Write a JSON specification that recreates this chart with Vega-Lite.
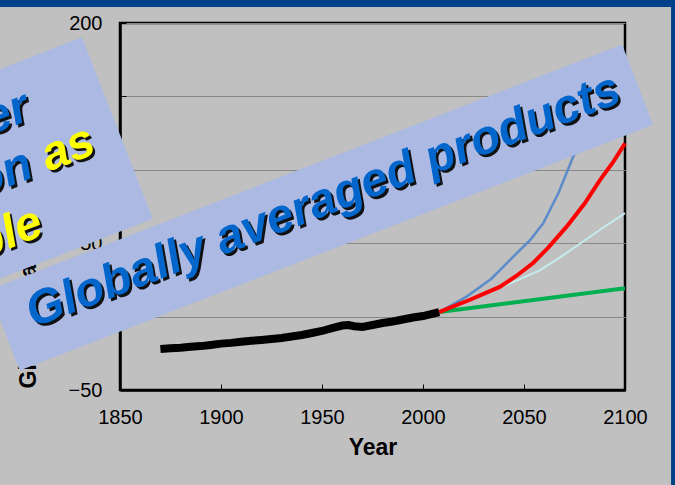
{
  "$schema": "https://vega.github.io/schema/vega-lite/v6.json",
  "width": 505,
  "height": 367,
  "autosize": {"type": "none"},
  "padding": {"left": 120, "top": 23, "right": 50, "bottom": 95},
  "background": "#C0C0C0",
  "config": {"view": {"stroke": "#000000", "strokeWidth": 2.5, "fill": null}, "font": "Liberation Sans"},
  "data": {"values": [
    {"series": "obs", "year": 1870, "value": -22.1},
    {"series": "obs", "year": 1875, "value": -21.6},
    {"series": "obs", "year": 1880, "value": -21.2},
    {"series": "obs", "year": 1885, "value": -20.6},
    {"series": "obs", "year": 1890, "value": -20.1},
    {"series": "obs", "year": 1895, "value": -19.3},
    {"series": "obs", "year": 1900, "value": -18.4},
    {"series": "obs", "year": 1905, "value": -17.9},
    {"series": "obs", "year": 1910, "value": -17.1},
    {"series": "obs", "year": 1915, "value": -16.5},
    {"series": "obs", "year": 1920, "value": -15.9},
    {"series": "obs", "year": 1925, "value": -15.3},
    {"series": "obs", "year": 1930, "value": -14.6},
    {"series": "obs", "year": 1935, "value": -13.6},
    {"series": "obs", "year": 1940, "value": -12.5},
    {"series": "obs", "year": 1945, "value": -11.2},
    {"series": "obs", "year": 1950, "value": -9.8},
    {"series": "obs", "year": 1955, "value": -7.8},
    {"series": "obs", "year": 1960, "value": -6.1},
    {"series": "obs", "year": 1963, "value": -5.8},
    {"series": "obs", "year": 1966, "value": -6.6},
    {"series": "obs", "year": 1970, "value": -7.0},
    {"series": "obs", "year": 1975, "value": -5.7},
    {"series": "obs", "year": 1980, "value": -4.4},
    {"series": "obs", "year": 1985, "value": -3.3},
    {"series": "obs", "year": 1990, "value": -2.0},
    {"series": "obs", "year": 1995, "value": -0.6},
    {"series": "obs", "year": 2000, "value": 0.4},
    {"series": "obs", "year": 2005, "value": 2.1},
    {"series": "obs", "year": 2008, "value": 3.1},
    {"series": "red", "year": 2008, "value": 3.1},
    {"series": "red", "year": 2015, "value": 7.0},
    {"series": "red", "year": 2023, "value": 11.3},
    {"series": "red", "year": 2030, "value": 15.5},
    {"series": "red", "year": 2038, "value": 20.2},
    {"series": "red", "year": 2046, "value": 27.5},
    {"series": "red", "year": 2054.5, "value": 36.5},
    {"series": "red", "year": 2062, "value": 47.0},
    {"series": "red", "year": 2071, "value": 61.1},
    {"series": "red", "year": 2080, "value": 77.0},
    {"series": "red", "year": 2087.6, "value": 93.0},
    {"series": "red", "year": 2094, "value": 105.0},
    {"series": "red", "year": 2100, "value": 118.0},
    {"series": "cyan", "year": 2008, "value": 3.1},
    {"series": "cyan", "year": 2023, "value": 11.0},
    {"series": "cyan", "year": 2038, "value": 19.8},
    {"series": "cyan", "year": 2048, "value": 25.5},
    {"series": "cyan", "year": 2058, "value": 31.7},
    {"series": "cyan", "year": 2068, "value": 40.5},
    {"series": "cyan", "year": 2078, "value": 50.0},
    {"series": "cyan", "year": 2088, "value": 59.5},
    {"series": "cyan", "year": 2100, "value": 70.5},
    {"series": "blue", "year": 2008, "value": 3.1},
    {"series": "blue", "year": 2021.6, "value": 13.6},
    {"series": "blue", "year": 2034, "value": 26.0},
    {"series": "blue", "year": 2046.3, "value": 43.0},
    {"series": "blue", "year": 2053, "value": 52.0},
    {"series": "blue", "year": 2059.5, "value": 63.6},
    {"series": "blue", "year": 2067, "value": 84.0},
    {"series": "blue", "year": 2074.4, "value": 109.0},
    {"series": "blue", "year": 2080, "value": 125.0},
    {"series": "blue", "year": 2090, "value": 145.0},
    {"series": "blue", "year": 2100, "value": 160.0},
    {"series": "green", "year": 2008, "value": 3.1},
    {"series": "green", "year": 2100, "value": 19.3}
  ]},
  "layer": [
    {
      "transform": [{"filter": "datum.series === 'cyan'"}],
      "mark": {"type": "line", "color": "#C4ECEE", "strokeWidth": 2},
      "encoding": {
        "x": {"field": "year", "type": "quantitative",
          "scale": {"domain": [1850, 2100], "nice": false, "zero": false},
          "axis": {"values": [1850, 1900, 1950, 2000, 2050, 2100], "format": "d", "title": "Year", "grid": false,
            "tickSize": -6, "tickColor": "#000000", "tickWidth": 1,
            "labelPadding": 39, "labelBaseline": "alphabetic", "labelFontSize": 20, "labelColor": "#000000",
            "labelFont": "Liberation Sans", "labelFlush": false, "labelOverlap": false,
            "titleFont": "Liberation Sans", "titleFontSize": 23, "titleFontWeight": "bold", "titleColor": "#000000",
            "titleBaseline": "alphabetic", "titleY": 64, "titleX": 252.5,
            "domainColor": "#000000", "domainWidth": 2.5}},
        "y": {"field": "value", "type": "quantitative",
          "scale": {"domain": [-50, 200], "nice": false, "zero": false},
          "axis": {"values": [-50, 0, 50, 100, 150, 200], "format": "d", "title": "Global mean change (%)",
            "grid": true, "gridColor": "#888888", "gridWidth": 1,
            "tickSize": -6, "tickColor": "#000000", "tickWidth": 1,
            "labelPadding": 24, "labelFontSize": 20, "labelColor": "#000000", "labelFont": "Liberation Sans",
            "labelFlush": false, "labelOverlap": false,
            "titleFont": "Liberation Sans", "titleFontSize": 23, "titleFontWeight": "bold", "titleColor": "#000000",
            "titleAngle": 270, "titleAlign": "left", "titleBaseline": "alphabetic", "titleX": -85, "titleY": 365,
            "domainColor": "#000000", "domainWidth": 2.5}}
      }
    },
    {
      "transform": [{"filter": "datum.series === 'blue'"}],
      "mark": {"type": "line", "color": "#5B8BC9", "strokeWidth": 2.5},
      "encoding": {
        "x": {"field": "year", "type": "quantitative", "title": "Year"},
        "y": {"field": "value", "type": "quantitative", "title": "Global mean change (%)"}
      }
    },
    {
      "transform": [{"filter": "datum.series === 'green'"}],
      "mark": {"type": "line", "color": "#00B050", "strokeWidth": 4},
      "encoding": {
        "x": {"field": "year", "type": "quantitative", "title": "Year"},
        "y": {"field": "value", "type": "quantitative", "title": "Global mean change (%)"}
      }
    },
    {
      "transform": [{"filter": "datum.series === 'red'"}],
      "mark": {"type": "line", "color": "#FF0000", "strokeWidth": 4},
      "encoding": {
        "x": {"field": "year", "type": "quantitative", "title": "Year"},
        "y": {"field": "value", "type": "quantitative", "title": "Global mean change (%)"}
      }
    },
    {
      "transform": [{"filter": "datum.series === 'obs'"}],
      "mark": {"type": "line", "color": "#000000", "strokeWidth": 8, "strokeJoin": "miter"},
      "encoding": {
        "x": {"field": "year", "type": "quantitative", "title": "Year"},
        "y": {"field": "value", "type": "quantitative", "title": "Global mean change (%)"}
      }
    },
    {
      "data": {"values": [{}]},
      "mark": {"type": "rect", "color": "#00428A"},
      "encoding": {
        "x": {"datum": 1780, "title": "Year"}, "x2": {"datum": 2140},
        "y": {"datum": 210.9, "title": "Global mean change (%)"}, "y2": {"datum": 240}
      }
    },
    {
      "data": {"values": [{}]},
      "mark": {"type": "rect", "color": "#00428A"},
      "encoding": {
        "x": {"datum": 2122.8, "title": "Year"}, "x2": {"datum": 2140},
        "y": {"datum": -130, "title": "Global mean change (%)"}, "y2": {"datum": 240}
      }
    },
    {
      "data": {"values": [{}]},
      "mark": {"type": "point", "shape": "M-2.564,-1H2.564V1H-2.564Z", "filled": true, "color": "#ABB9E3",
        "opacity": 1, "strokeWidth": 0, "size": 38025, "angle": 338.7},
      "encoding": {
        "x": {"datum": 1733.4, "title": "Year"},
        "y": {"datum": 66.6, "title": "Global mean change (%)"}
      }
    },
    {
      "data": {"values": [{}]},
      "mark": {"type": "text", "text": "Closer", "font": "Liberation Sans", "fontSize": 48, "fontWeight": "bold",
        "fontStyle": "italic", "angle": 339, "align": "right", "baseline": "alphabetic", "color": "#111111",
        "dx": 1.4, "dy": 3.2},
      "encoding": {"x": {"datum": 1806.8, "title": "Year"}, "y": {"datum": 134.7, "title": "Global mean change (%)"}}
    },
    {
      "data": {"values": [{}]},
      "mark": {"type": "text", "text": "Closer", "font": "Liberation Sans", "fontSize": 48, "fontWeight": "bold",
        "fontStyle": "italic", "angle": 339, "align": "right", "baseline": "alphabetic", "color": "#0066CC"},
      "encoding": {"x": {"datum": 1806.8, "title": "Year"}, "y": {"datum": 134.7, "title": "Global mean change (%)"}}
    },
    {
      "data": {"values": [{}]},
      "mark": {"type": "text", "text": "evolution", "font": "Liberation Sans", "fontSize": 48, "fontWeight": "bold",
        "fontStyle": "italic", "angle": 339, "align": "right", "baseline": "alphabetic", "color": "#111111",
        "dx": 1.4, "dy": 3.2},
      "encoding": {"x": {"datum": 1808.25, "title": "Year"}, "y": {"datum": 95.4, "title": "Global mean change (%)"}}
    },
    {
      "data": {"values": [{}]},
      "mark": {"type": "text", "text": "evolution", "font": "Liberation Sans", "fontSize": 48, "fontWeight": "bold",
        "fontStyle": "italic", "angle": 339, "align": "right", "baseline": "alphabetic", "color": "#0066CC"},
      "encoding": {"x": {"datum": 1808.25, "title": "Year"}, "y": {"datum": 95.4, "title": "Global mean change (%)"}}
    },
    {
      "data": {"values": [{}]},
      "mark": {"type": "text", "text": "as", "font": "Liberation Sans", "fontSize": 48, "fontWeight": "bold",
        "fontStyle": "italic", "angle": 339, "align": "left", "baseline": "alphabetic", "color": "#111111",
        "dx": 14.8, "dy": 3.2},
      "encoding": {"x": {"datum": 1808.25, "title": "Year"}, "y": {"datum": 95.4, "title": "Global mean change (%)"}}
    },
    {
      "data": {"values": [{}]},
      "mark": {"type": "text", "text": "as", "font": "Liberation Sans", "fontSize": 48, "fontWeight": "bold",
        "fontStyle": "italic", "angle": 339, "align": "left", "baseline": "alphabetic", "color": "#FFFF00",
        "dx": 13.4},
      "encoding": {"x": {"datum": 1808.25, "title": "Year"}, "y": {"datum": 95.4, "title": "Global mean change (%)"}}
    },
    {
      "data": {"values": [{}]},
      "mark": {"type": "text", "text": "possible", "font": "Liberation Sans", "fontSize": 48, "fontWeight": "bold",
        "fontStyle": "italic", "angle": 339, "align": "right", "baseline": "alphabetic", "color": "#111111",
        "dx": 1.4, "dy": 3.2},
      "encoding": {"x": {"datum": 1813.25, "title": "Year"}, "y": {"datum": 55.9, "title": "Global mean change (%)"}}
    },
    {
      "data": {"values": [{}]},
      "mark": {"type": "text", "text": "possible", "font": "Liberation Sans", "fontSize": 48, "fontWeight": "bold",
        "fontStyle": "italic", "angle": 339, "align": "right", "baseline": "alphabetic", "color": "#FFFF00"},
      "encoding": {"x": {"datum": 1813.25, "title": "Year"}, "y": {"datum": 55.9, "title": "Global mean change (%)"}}
    },
    {
      "data": {"values": [{}]},
      "mark": {"type": "point", "shape": "M-7.9,-1H7.9V1H-7.9Z", "filled": true, "color": "#ABB9E3",
        "opacity": 1, "strokeWidth": 0, "size": 7396, "angle": 338.8},
      "encoding": {
        "x": {"datum": 1949.45, "title": "Year"},
        "y": {"datum": 74.3, "title": "Global mean change (%)"}
      }
    },
    {
      "data": {"values": [{}]},
      "mark": {"type": "text", "text": "Globally averaged products", "font": "Liberation Sans", "fontSize": 48,
        "fontWeight": "bold", "fontStyle": "italic", "angle": 339, "align": "center", "baseline": "alphabetic",
        "color": "#111111", "dx": 1.4, "dy": 3.2},
      "encoding": {"x": {"datum": 1953.2, "title": "Year"}, "y": {"datum": 69.5, "title": "Global mean change (%)"}}
    },
    {
      "data": {"values": [{}]},
      "mark": {"type": "text", "text": "Globally averaged products", "font": "Liberation Sans", "fontSize": 48,
        "fontWeight": "bold", "fontStyle": "italic", "angle": 339, "align": "center", "baseline": "alphabetic",
        "color": "#0066CC"},
      "encoding": {"x": {"datum": 1953.2, "title": "Year"}, "y": {"datum": 69.5, "title": "Global mean change (%)"}}
    }
  ]
}
